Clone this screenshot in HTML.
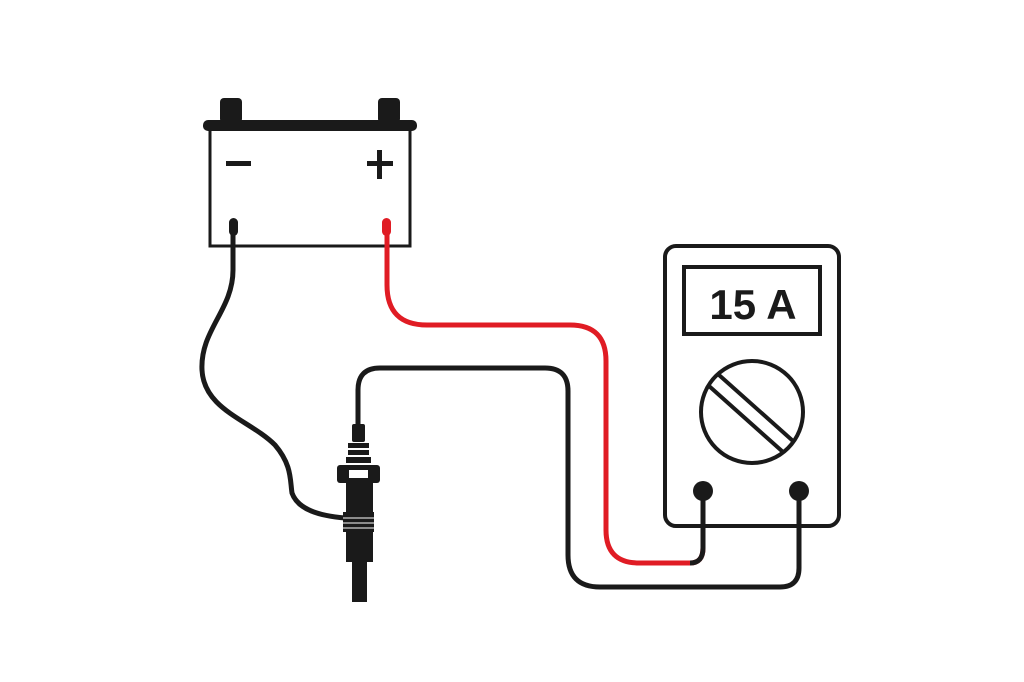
<!DOCTYPE html>
<html><head><meta charset="utf-8"><style>
html,body{margin:0;padding:0;background:#fff;}
svg{display:block;}
</style></head><body>
<svg width="1024" height="682" viewBox="0 0 1024 682" xmlns="http://www.w3.org/2000/svg">
<rect width="1024" height="682" fill="#fff"/>
<!-- Battery -->
<rect x="220" y="98" width="22" height="25" rx="4" fill="#1a1a1a"/>
<rect x="378" y="98" width="22" height="25" rx="4" fill="#1a1a1a"/>
<rect x="203" y="120" width="214" height="11" rx="5" fill="#1a1a1a"/>
<path d="M210 131 V246 H410 V131" fill="none" stroke="#1a1a1a" stroke-width="3"/>
<rect x="226" y="161" width="25" height="5" fill="#1a1a1a"/>
<rect x="367" y="161" width="26" height="5" fill="#1a1a1a"/>
<rect x="377" y="150" width="5" height="29" fill="#1a1a1a"/>
<!-- Wires -->
<path d="M233 230 V270 C233 310 200 330 202 370 C204 410 250 420 275 445 C292 465 290 480 292 493 C298 510 320 516 345 518" fill="none" stroke="#1a1a1a" stroke-width="5"/>
<path d="M387 230 V285 Q387 325 427 325 H570 Q606 325 606 361 V530 Q606 563 639 563 H690 Q703 563 703 548 V495" fill="none" stroke="#e01c24" stroke-width="5"/>
<path d="M690 563 Q703 563 703 548 V495" fill="none" stroke="#1a1a1a" stroke-width="5"/>
<path d="M358 425 V390 Q358 368 380 368 H545 Q568 368 568 391 V555 Q568 587 600 587 H780 Q799 587 799 568 V495" fill="none" stroke="#1a1a1a" stroke-width="5"/>
<rect x="229" y="218" width="9" height="18" rx="4.5" fill="#1a1a1a"/>
<rect x="382" y="218" width="9" height="18" rx="4.5" fill="#e01c24"/>
<!-- Spark plug -->
<rect x="352" y="424" width="13" height="18" rx="2" fill="#1a1a1a"/>
<rect x="348" y="443" width="21" height="5" fill="#1a1a1a"/>
<rect x="348" y="450" width="21" height="5" fill="#1a1a1a"/>
<rect x="346" y="457" width="25" height="6" fill="#1a1a1a"/>
<rect x="337" y="465" width="43" height="18" rx="3" fill="#1a1a1a"/>
<rect x="349" y="470" width="19" height="8" fill="#fff"/>
<rect x="346" y="482" width="27" height="80" fill="#1a1a1a"/>
<rect x="343" y="512" width="31" height="20" fill="#1a1a1a"/>
<line x1="343" y1="518" x2="374" y2="518" stroke="#fff" stroke-width="1"/>
<line x1="343" y1="523" x2="374" y2="523" stroke="#fff" stroke-width="1"/>
<line x1="343" y1="528" x2="374" y2="528" stroke="#fff" stroke-width="1"/>
<rect x="352" y="562" width="15" height="40" fill="#1a1a1a"/>
<!-- Multimeter -->
<rect x="665" y="246" width="174" height="280" rx="11" fill="none" stroke="#1a1a1a" stroke-width="4"/>
<rect x="684" y="267" width="136" height="67" fill="none" stroke="#1a1a1a" stroke-width="4"/>
<text x="753" y="319" text-anchor="middle" font-family="Liberation Sans, sans-serif" font-weight="bold" font-size="42" fill="#1a1a1a">15 A</text>
<circle cx="752" cy="412" r="51" fill="none" stroke="#1a1a1a" stroke-width="4"/>
<line x1="719" y1="375" x2="793" y2="441" stroke="#1a1a1a" stroke-width="4"/>
<line x1="709" y1="386" x2="783" y2="452" stroke="#1a1a1a" stroke-width="4"/>
<circle cx="703" cy="491" r="10" fill="#1a1a1a"/>
<circle cx="799" cy="491" r="10" fill="#1a1a1a"/>
</svg>
</body></html>
